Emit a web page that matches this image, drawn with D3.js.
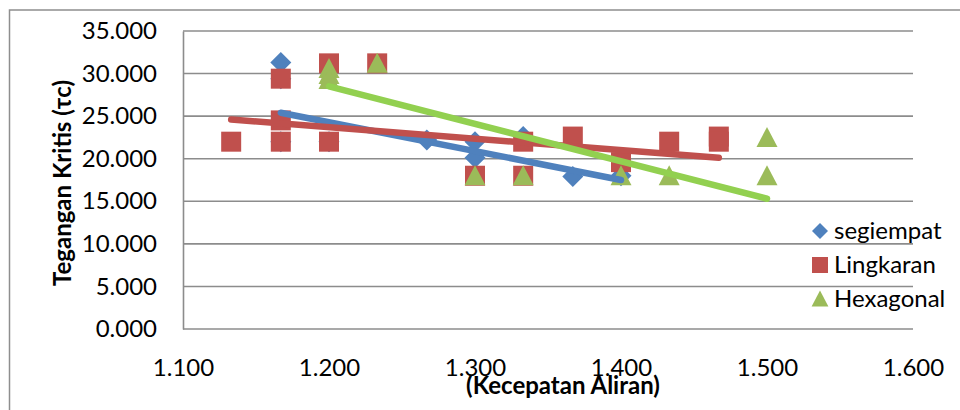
<!DOCTYPE html>
<html>
<head>
<meta charset="utf-8">
<script src="https://cdn.jsdelivr.net/npm/d3@7"></script>
<style>
  html, body { margin: 0; padding: 0; background: #fff; }
  svg { display: block; font-family: "Lato", "Open Sans", sans-serif; }
</style>
</head>
<body>
<svg id="chart" width="960" height="410"></svg>
<script>
// Flow velocity (x) against critical shear stress (y) for three pier shapes
const segiempatX = [1.167, 1.167, 1.167, 1.200, 1.267, 1.300, 1.300, 1.333, 1.367, 1.400];
const segiempatY = [31.3, 29.4, 22.0, 22.0, 22.2, 22.0, 20.1, 22.6, 17.9, 18.0];

const lingkaranX = [1.133, 1.167, 1.167, 1.167, 1.200, 1.200, 1.233, 1.300, 1.333, 1.333, 1.367, 1.400, 1.433, 1.467, 1.467];
const lingkaranY = [22.0, 29.4, 24.5, 22.0, 31.2, 22.0, 31.2, 18.0, 22.0, 18.0, 22.6, 19.6, 22.0, 22.6, 22.0];

const hexagonalX = [1.200, 1.200, 1.200, 1.233, 1.300, 1.333, 1.400, 1.433, 1.500, 1.500];
const hexagonalY = [30.6, 29.9, 29.3, 31.2, 18.0, 18.0, 18.0, 18.0, 22.5, 18.0];

// Linear trend lines: [x start, x end] and [y start, y end]
const trendSegiempat = { x: [1.167, 1.400], y: [25.4, 17.5] };
const trendLingkaran = { x: [1.133, 1.467], y: [24.6, 20.1] };
const trendHexagonal = { x: [1.200, 1.500], y: [28.5, 15.3] };

const seriesNames = ["segiempat", "Lingkaran", "Hexagonal"];
const xTicks = [1.1, 1.2, 1.3, 1.4, 1.5, 1.6];
const yTicks = [0, 5, 10, 15, 20, 25, 30, 35];
const xTitle = "(Kecepatan Aliran)";
const yTitle = "Tegangan Kritis (τc)";

const svg = d3.select("#chart");
const W = 960, H = 410;
const plot = { left: 183, right: 913, top: 31, bottom: 329 };

const x = d3.scaleLinear().domain([1.1, 1.6]).range([plot.left, plot.right]);
const y = d3.scaleLinear().domain([0, 35]).range([plot.bottom, plot.top]);
const fmt = d3.format(".3f");

const gridColor = "#8c8c8c";

// chart frame
svg.append("path")
  .attr("d", `M9.5,${H + 2} V10 H${W + 2}`)
  .attr("fill", "none").attr("stroke", "#8e8e8e").attr("stroke-width", 1.5);

// horizontal gridlines
svg.append("g").selectAll("line").data(yTicks).join("line")
  .attr("x1", plot.left).attr("x2", plot.right)
  .attr("y1", d => y(d)).attr("y2", d => y(d))
  .attr("stroke", gridColor).attr("stroke-width", 1.6);

// y axis
const yAxis = svg.append("g")
  .attr("transform", `translate(${plot.left},0)`)
  .call(d3.axisLeft(y).tickValues(yTicks).tickFormat(fmt).tickSize(0).tickPadding(26));
yAxis.select(".domain").attr("stroke", gridColor).attr("stroke-width", 1.6);
yAxis.selectAll("text").attr("font-size", 24).attr("fill", "#000")
  .attr("font-family", "Lato, sans-serif");

// x axis (labels only, line is the zero gridline)
const xAxis = svg.append("g")
  .attr("transform", `translate(0,${plot.bottom})`)
  .call(d3.axisBottom(x).tickValues(xTicks).tickFormat(fmt).tickSize(0).tickPadding(30));
xAxis.select(".domain").remove();
xAxis.selectAll("text").attr("font-size", 24).attr("fill", "#000")
  .attr("font-family", "Lato, sans-serif");

// axis titles
svg.append("text")
  .attr("x", 563).attr("y", 394)
  .attr("text-anchor", "middle")
  .attr("font-size", 24).attr("font-weight", "bold")
  .text(xTitle);

svg.append("text")
  .attr("transform", `translate(71,183) rotate(-90)`)
  .attr("text-anchor", "middle")
  .attr("font-size", 24).attr("font-weight", "bold")
  .text(yTitle);

const colors = { blue: "#4F81BD", red: "#C0504D", green: "#9BBB59", greenLine: "#92D050" };

const diamond = s => `M0,${-s} L${s},0 L0,${s} L${-s},0 Z`;
const square = s => `M${-s},${-s} H${s} V${s} H${-s} Z`;
const triangle = s => `M0,${-s * 1.05} L${s * 1.05},${s * 0.95} L${-s * 1.05},${s * 0.95} Z`;

function markers(xs, ys, shape, size, color) {
  svg.append("g").selectAll("path").data(xs.map((d, i) => [d, ys[i]])).join("path")
    .attr("transform", d => `translate(${x(d[0])},${y(d[1])})`)
    .attr("d", shape(size))
    .attr("fill", color);
}

markers(segiempatX, segiempatY, diamond, 10.5, colors.blue);
markers(lingkaranX, lingkaranY, square, 10, colors.red);
markers(hexagonalX, hexagonalY, triangle, 10, colors.green);

// trend lines
function trend(t, color) {
  svg.append("line")
    .attr("x1", x(t.x[0])).attr("y1", y(t.y[0]))
    .attr("x2", x(t.x[1])).attr("y2", y(t.y[1]))
    .attr("stroke", color).attr("stroke-width", 6.5).attr("stroke-linecap", "round");
}
trend(trendSegiempat, colors.blue);
trend(trendLingkaran, colors.red);
trend(trendHexagonal, colors.greenLine);

// legend
const legendShapes = [diamond, square, triangle];
const legendColors = [colors.blue, colors.red, colors.green];
const legend = svg.append("g");
seriesNames.forEach((name, i) => {
  const cy = 231 + i * 34;
  legend.append("path")
    .attr("transform", `translate(820,${cy})`)
    .attr("d", legendShapes[i](8))
    .attr("fill", legendColors[i]);
  legend.append("text")
    .attr("x", 834).attr("y", cy)
    .attr("dy", "0.35em")
    .attr("font-size", 24)
    .text(name);
});
</script>
</body>
</html>
